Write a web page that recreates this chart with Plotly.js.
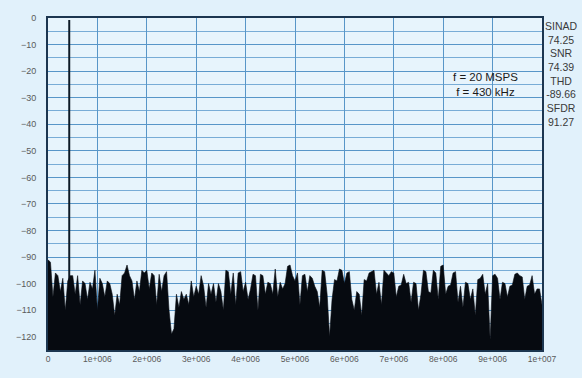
<!DOCTYPE html>
<html>
<head>
<meta charset="utf-8">
<script src="https://cdn.plot.ly/plotly-3.0.1.min.js"></script>
<style>html,body{margin:0;padding:0;background:#e1f1fb;}</style>
</head>
<body>
<div id="chart" style="width:582px;height:378px;"></div>
<script>
// Noise floor FFT bins, 50 kHz spacing starting at 0 Hz (dBFS)
const binSpacingHz = 50000;
const noiseLevels = [
  -91, -92, -105, -96, -97, -103, -98, -110, -99, -97,
  -97, -104, -97, -108, -99, -100, -106, -99.5, -102, -95,
  -110, -98, -100, -105, -99, -100, -104, -112, -104, -108,
  -97, -96, -93, -97, -99, -106, -99, -103, -95, -96,
  -95, -102, -96, -97, -108, -96.5, -103, -97, -95.5, -110,
  -119, -117, -104, -109, -103, -106, -104, -108, -99, -105,
  -101, -104, -97, -101, -109, -100, -104, -100, -107, -100,
  -103, -110, -95, -95.5, -104, -96, -108, -96, -95.5, -103,
  -99.5, -106, -102, -96.5, -97, -110, -96.5, -97, -104, -99.5,
  -100, -104, -94.5, -105, -99.5, -102, -100, -93.5, -93, -97,
  -99, -96, -108, -97, -96.5, -103, -97, -98, -101, -103,
  -109, -95, -95.5, -104, -120, -106, -98.5, -99, -94.5, -95,
  -100, -96, -95.5, -106, -110, -103, -104, -112, -98.5, -99,
  -96, -95.5, -95, -104, -99.5, -108, -95, -96, -97, -95.5,
  -96, -105, -101, -100.5, -96.5, -100, -99.5, -107, -99.5, -100,
  -110, -104, -95, -95.5, -103, -103.5, -95, -96, -106, -93.5,
  -93, -104, -101, -100.5, -96, -95.5, -107, -101, -109, -99.5,
  -100, -106, -102, -112, -98.5, -98, -96.5, -104, -100, -121,
  -97, -96.5, -98, -106, -99.5, -100, -105, -101, -100.5, -96.5,
  -96, -97, -97.5, -106, -101, -100.5, -97, -104, -102, -102,
  -108
];
// Fundamental tone
const signalFreq = [430000];
const signalLevel = [-0.8];

const floorDb = -125;
const yTicks = [0, -10, -20, -30, -40, -50, -60, -70, -80, -90, -100, -110, -120];
const xTickVals = [0, 1e6, 2e6, 3e6, 4e6, 5e6, 6e6, 7e6, 8e6, 9e6, 1e7];
const xTickText = ['0', '1e+006', '2e+006', '3e+006', '4e+006', '5e+006', '6e+006', '7e+006', '8e+006', '9e+006', '1e+007'];
const statsText = ['SINAD', '74.25', 'SNR', '74.39', 'THD', '-89.66', 'SFDR', '91.27'];
const noteText = ['f = 20 MSPS', 'f = 430 kHz'];

const noiseFreq = noiseLevels.map((_, i) => i * binSpacingHz);

const traces = [
  {
    type: 'scatter', mode: 'lines',
    x: [noiseFreq[0], noiseFreq[noiseFreq.length - 1]],
    y: [floorDb, floorDb],
    line: {width: 0, color: 'rgba(0,0,0,0)'},
    hoverinfo: 'skip'
  },
  {
    type: 'scatter', mode: 'lines',
    x: noiseFreq,
    y: noiseLevels,
    fill: 'tonexty',
    fillcolor: '#060a10',
    line: {width: 0.6, color: '#060a10'},
    hoverinfo: 'skip'
  },
  {
    type: 'bar',
    x: signalFreq,
    y: signalLevel.map(v => v - floorDb),
    base: floorDb,
    width: 40000,
    marker: {color: '#0d1a26', line: {width: 0}},
    hoverinfo: 'skip'
  }
];

const gridCol = '#5896c8';
const layout = {
  width: 582, height: 378,
  margin: {l: 48, r: 40, t: 18, b: 28, pad: 0},
  paper_bgcolor: '#e1f1fb',
  plot_bgcolor: '#e7f4fc',
  showlegend: false,
  font: {family: 'Liberation Sans, Arial, sans-serif', color: '#555'},
  xaxis: {
    range: [0, 1e7],
    tickvals: xTickVals,
    ticktext: xTickText,
    tickfont: {size: 8.5, color: '#5a5a5a'},
    showgrid: true, gridcolor: gridCol, gridwidth: 1,
    zeroline: false,
    showline: true, linecolor: '#1c3650', linewidth: 2, mirror: true,
    ticks: '', ticklen: 0
  },
  yaxis: {
    range: [floorDb, 0],
    tickvals: yTicks,
    tickfont: {size: 9, color: '#5a5a5a'},
    showgrid: true, gridcolor: gridCol, gridwidth: 1,
    minor: {dtick: 5, tick0: 0, showgrid: true, gridcolor: '#78acd6', gridwidth: 1},
    zeroline: false,
    showline: true, linecolor: '#1c3650', linewidth: 2, mirror: true,
    ticks: '', ticklabelstandoff: 8
  },
  annotations: [
    {
      xref: 'paper', yref: 'paper', x: 1.04, y: 1.0, xanchor: 'center', yanchor: 'top',
      text: statsText.join('<br>'), showarrow: false, align: 'center',
      font: {size: 10.5, color: '#3a3a3a'}
    },
    {
      xref: 'paper', yref: 'paper', x: 0.885, y: 0.80, xanchor: 'center', yanchor: 'middle',
      text: noteText.join('<br>'), showarrow: false, align: 'center',
      font: {size: 11.5, color: '#1a1a1a'}
    }
  ]
};

Plotly.newPlot('chart', traces, layout, {staticPlot: true, displayModeBar: false});
</script>
</body>
</html>
